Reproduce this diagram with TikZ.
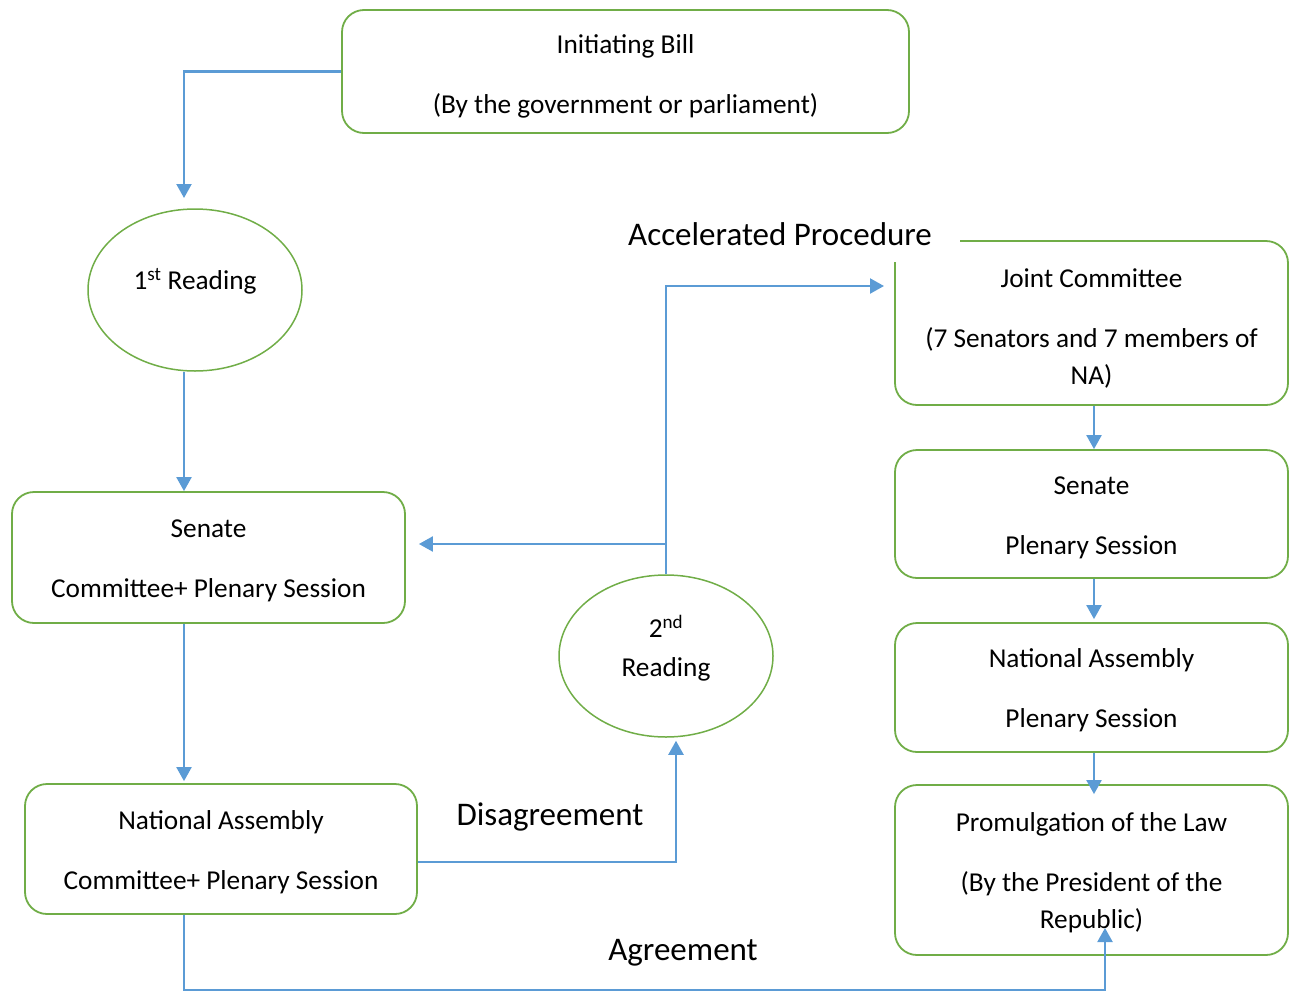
\documentclass[tikz,border=0pt]{standalone}
\usepackage{fontspec}
\setmainfont{Carlito}
\usetikzlibrary{arrows.meta,shapes.geometric}
\definecolor{grn}{RGB}{112,173,71}
\definecolor{blu}{RGB}{91,155,213}
\newcommand{\boxtxt}[2][-4pt]{\raisebox{#1}[\height][\depth]{\begin{tabular}{@{}c@{}}#2\end{tabular}}}
\tikzset{
 box/.style={draw=grn, line width=1.8pt, rounded corners=22pt, align=center,
   font=\fontsize{27.3}{37}\selectfont, inner sep=0pt},
 ell/.style={draw=grn, line width=1.5pt, ellipse, align=center,
   font=\fontsize{27.3}{37}\selectfont, inner sep=0pt, minimum width=214pt, minimum height=162pt},
 arr/.style={draw=blu, line width=2.2pt, -{Triangle[length=14pt,width=15pt]}},
 lbl/.style={font=\fontsize{33}{40}\selectfont, inner sep=0pt}
}
\begin{document}
\begin{tikzpicture}[x=1pt,y=-1pt]
\useasboundingbox (0,0) rectangle (1293,991);
% boxes
\node[box, minimum width=567pt, minimum height=123pt] (init) at (625.5,71.5)
  {\boxtxt[-5pt]{Initiating Bill\\[23pt](By the government or parliament)}};
\node[box, minimum width=393pt, minimum height=131pt] (sen) at (208.5,557.5)
  {\boxtxt[-3pt]{Senate\\[23pt]Committee+ Plenary Session}};
\node[box, minimum width=392pt, minimum height=130pt] (na) at (221,849)
  {\boxtxt[-3pt]{National Assembly\\[23pt]Committee+ Plenary Session}};
\node[box, minimum width=393pt, minimum height=164pt] (jc) at (1091.5,323)
  {\boxtxt[-6pt]{Joint Committee\\[23pt](7 Senators and 7 members of\\NA)}};
\node[box, minimum width=393pt, minimum height=128pt] (sp) at (1091.5,514)
  {\boxtxt[-3pt]{Senate\\[23pt]Plenary Session}};
\node[box, minimum width=393pt, minimum height=129pt] (nap) at (1091.5,687.5)
  {\boxtxt[-3pt]{National Assembly\\[23pt]Plenary Session}};
\node[box, minimum width=393pt, minimum height=170pt] (prom) at (1091.5,870)
  {\boxtxt[-3pt]{Promulgation of the Law\\[23pt](By the President of the\\Republic)}};
% ellipses
\node[ell] (r1) at (195,290) {\boxtxt[8pt]{1\textsuperscript{st} Reading}};
\node[ell] (r2) at (666,656) {\boxtxt[6pt]{2\textsuperscript{nd}\\[2pt]Reading}};
% label with white background
\fill[white] (610,185) rectangle (960,262);
\node[lbl, anchor=base] (acc) at (780,245) {Accelerated\ Procedure};
\node[lbl, anchor=base] (dis) at (550,825) {Disagreement};
\node[lbl, anchor=base] (agr) at (683,960) {Agreement};
% coordinates
\coordinate (lx) at (184,0);
\coordinate (c1) at (184,198);
\coordinate (q) at (676,0);
\coordinate (t1) at (884,286);
\coordinate (b) at (666,544);
\coordinate (rx) at (1094,0);
\coordinate (bl) at (184,990);
\coordinate (br) at (1105,990);
\coordinate (tip) at (1105,928);
% connectors
\draw[arr] (init.west) -| (c1);
\draw[arr] (r1.south -| lx) -- (sen.north -| lx);
\draw[arr] (sen.south -| lx) -- ([yshift=2pt]na.north -| lx);
\draw[arr] ([yshift=-13pt]na.east) -| ([yshift=-3pt]r2.south -| q);
\draw[arr] (r2.north) |- (t1);
\draw[arr] (b) -- ([xshift=13pt]sen.east |- b);
\draw[arr] (jc.south -| rx) -- (sp.north -| rx);
\draw[arr] (sp.south -| rx) -- ([yshift=3pt]nap.north -| rx);
\draw[arr] (nap.south -| rx) -- ([yshift=-10pt]prom.north -| rx);
\draw[arr] (na.south -| lx) -- (bl) -- (br) -- (tip);
\end{tikzpicture}
\end{document}
